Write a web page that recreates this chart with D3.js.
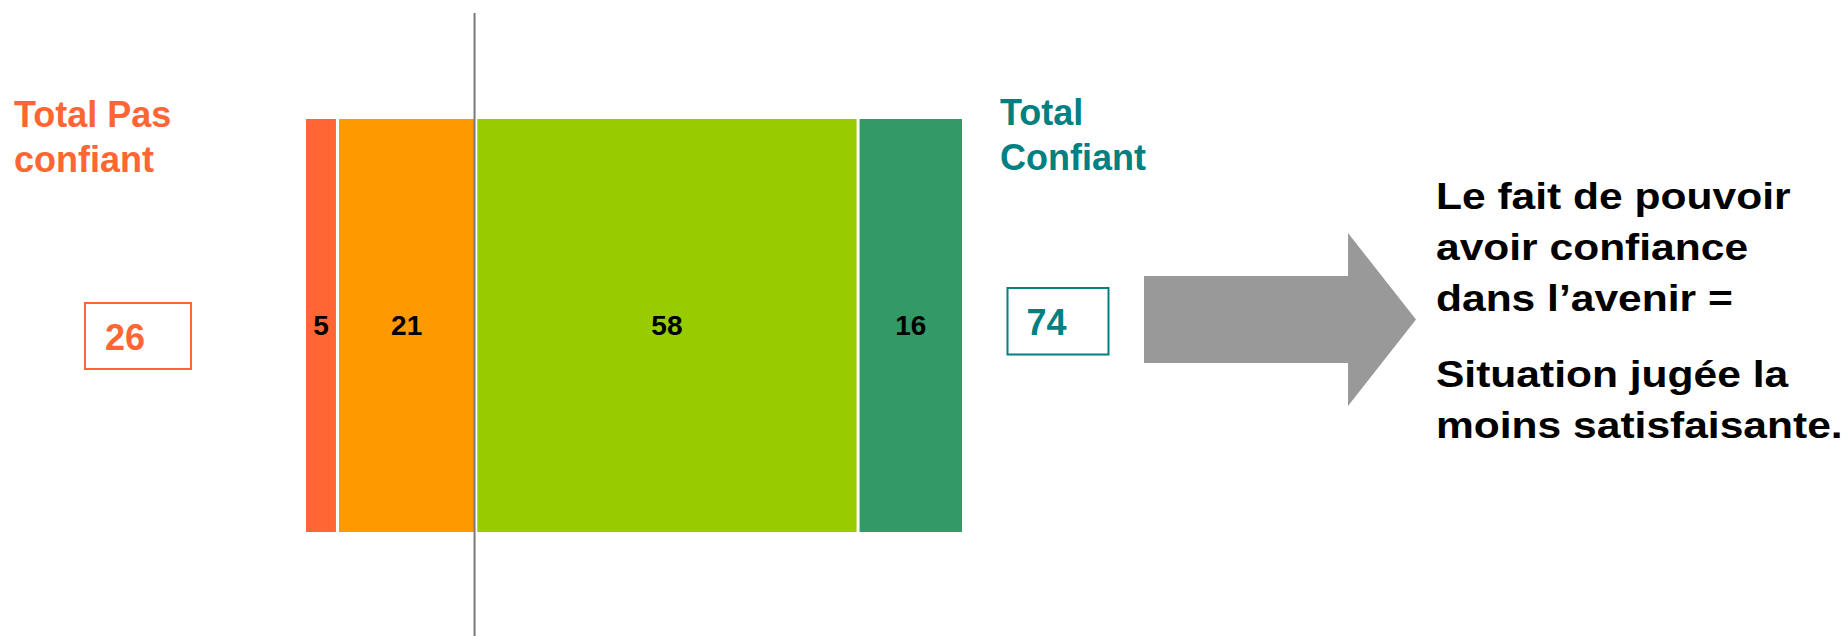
<!DOCTYPE html>
<html>
<head>
<meta charset="utf-8">
<script src="https://cdn.jsdelivr.net/npm/d3@7"></script>
<style>
  html, body { margin: 0; padding: 0; background: #fff; }
  svg { display: block; font-family: "Liberation Sans", Arial, sans-serif; font-weight: bold; }
</style>
</head>
<body>
<div id="chart"></div>
<script>
// data
var categories = ['Pas du tout confiant', 'Plutôt pas confiant', 'Plutôt confiant', 'Très confiant'];
var values = [5, 21, 58, 16];
var groupLabels = [['Total Pas', 'confiant'], ['Total', 'Confiant']];
var groupMembers = [[0, 1], [2, 3]];
var note = [['Le fait de pouvoir', 'avoir confiance', 'dans l\u2019avenir ='], ['Situation jugée la', 'moins satisfaisante.']];

// styles
var barColors = ['#FF6633', '#FF9900', '#99CC00', '#339966'];
var groupColors = ['#FF6633', '#008080'];
var width = 1848, height = 636;

var svg = d3.select('#chart').append('svg')
    .attr('width', width)
    .attr('height', height);

var x = d3.scaleLinear().domain([0, 100]).range([306, 965]);
var y = d3.scaleBand().domain(['row']).range([119, 532]);
var gap = 3;

// cumulative positions
var starts = [];
var acc = 0;
values.forEach(function (v) { starts.push(acc); acc += v; });

var bars = svg.append('g').attr('class', 'bars');
bars.selectAll('rect')
    .data(values)
    .enter()
    .append('rect')
    .attr('x', function (d, i) { return x(starts[i]); })
    .attr('y', y('row'))
    .attr('width', function (d, i) { return x(starts[i] + d) - x(starts[i]) - gap; })
    .attr('height', y.bandwidth())
    .attr('fill', function (d, i) { return barColors[i]; });

bars.selectAll('text')
    .data(values)
    .enter()
    .append('text')
    .attr('x', function (d, i) { return (x(starts[i]) + x(starts[i] + d) - gap) / 2; })
    .attr('y', 335)
    .attr('text-anchor', 'middle')
    .attr('font-size', 28)
    .attr('fill', '#000')
    .text(function (d) { return d; });

// divider between the two groups
var split = d3.sum(groupMembers[0].map(function (i) { return values[i]; }));
svg.append('line')
    .attr('x1', x(split) - gap + 0.2)
    .attr('x2', x(split) - gap + 0.2)
    .attr('y1', 13)
    .attr('y2', height)
    .attr('stroke', '#7a7a7a')
    .attr('stroke-width', 2);

// group totals
var totals = groupMembers.map(function (m) { return d3.sum(m.map(function (i) { return values[i]; })); });
var labelPos = [{ x: 14, y: 127 }, { x: 1000, y: 125 }];
var boxPos = [{ x: 85, y: 303, w: 106, h: 66, tx: 105, ty: 349.5 },
              { x: 1007.5, y: 288, w: 101, h: 66.5, tx: 1026.5, ty: 335 }];

groupLabels.forEach(function (lines, g) {
    var t = svg.append('text')
        .attr('x', labelPos[g].x)
        .attr('y', labelPos[g].y)
        .attr('font-size', 36)
        .attr('fill', groupColors[g]);
    lines.forEach(function (l, j) {
        t.append('tspan')
            .attr('x', labelPos[g].x)
            .attr('dy', j === 0 ? 0 : 45)
            .text(l);
    });
    svg.append('rect')
        .attr('x', boxPos[g].x)
        .attr('y', boxPos[g].y)
        .attr('width', boxPos[g].w)
        .attr('height', boxPos[g].h)
        .attr('fill', 'none')
        .attr('stroke', groupColors[g])
        .attr('stroke-width', 2);
    svg.append('text')
        .attr('x', boxPos[g].tx)
        .attr('y', boxPos[g].ty)
        .attr('font-size', 36)
        .attr('fill', groupColors[g])
        .text(totals[g]);
});

// arrow
var arrow = d3.path();
arrow.moveTo(1144, 276);
arrow.lineTo(1348, 276);
arrow.lineTo(1348, 233);
arrow.lineTo(1416, 319.5);
arrow.lineTo(1348, 406);
arrow.lineTo(1348, 363);
arrow.lineTo(1144, 363);
arrow.closePath();
svg.append('path')
    .attr('d', arrow.toString())
    .attr('fill', '#999999');

// note text (slightly stretched horizontally like the source)
var noteG = svg.append('g')
    .attr('transform', 'translate(1436,0) scale(1.15,1)');
var baselines = [[209, 260, 311], [387, 438]];
note.forEach(function (para, p) {
    para.forEach(function (l, j) {
        noteG.append('text')
            .attr('x', 0)
            .attr('y', baselines[p][j])
            .attr('font-size', 37)
            .attr('fill', '#000')
            .text(l);
    });
});
</script>
</body>
</html>
